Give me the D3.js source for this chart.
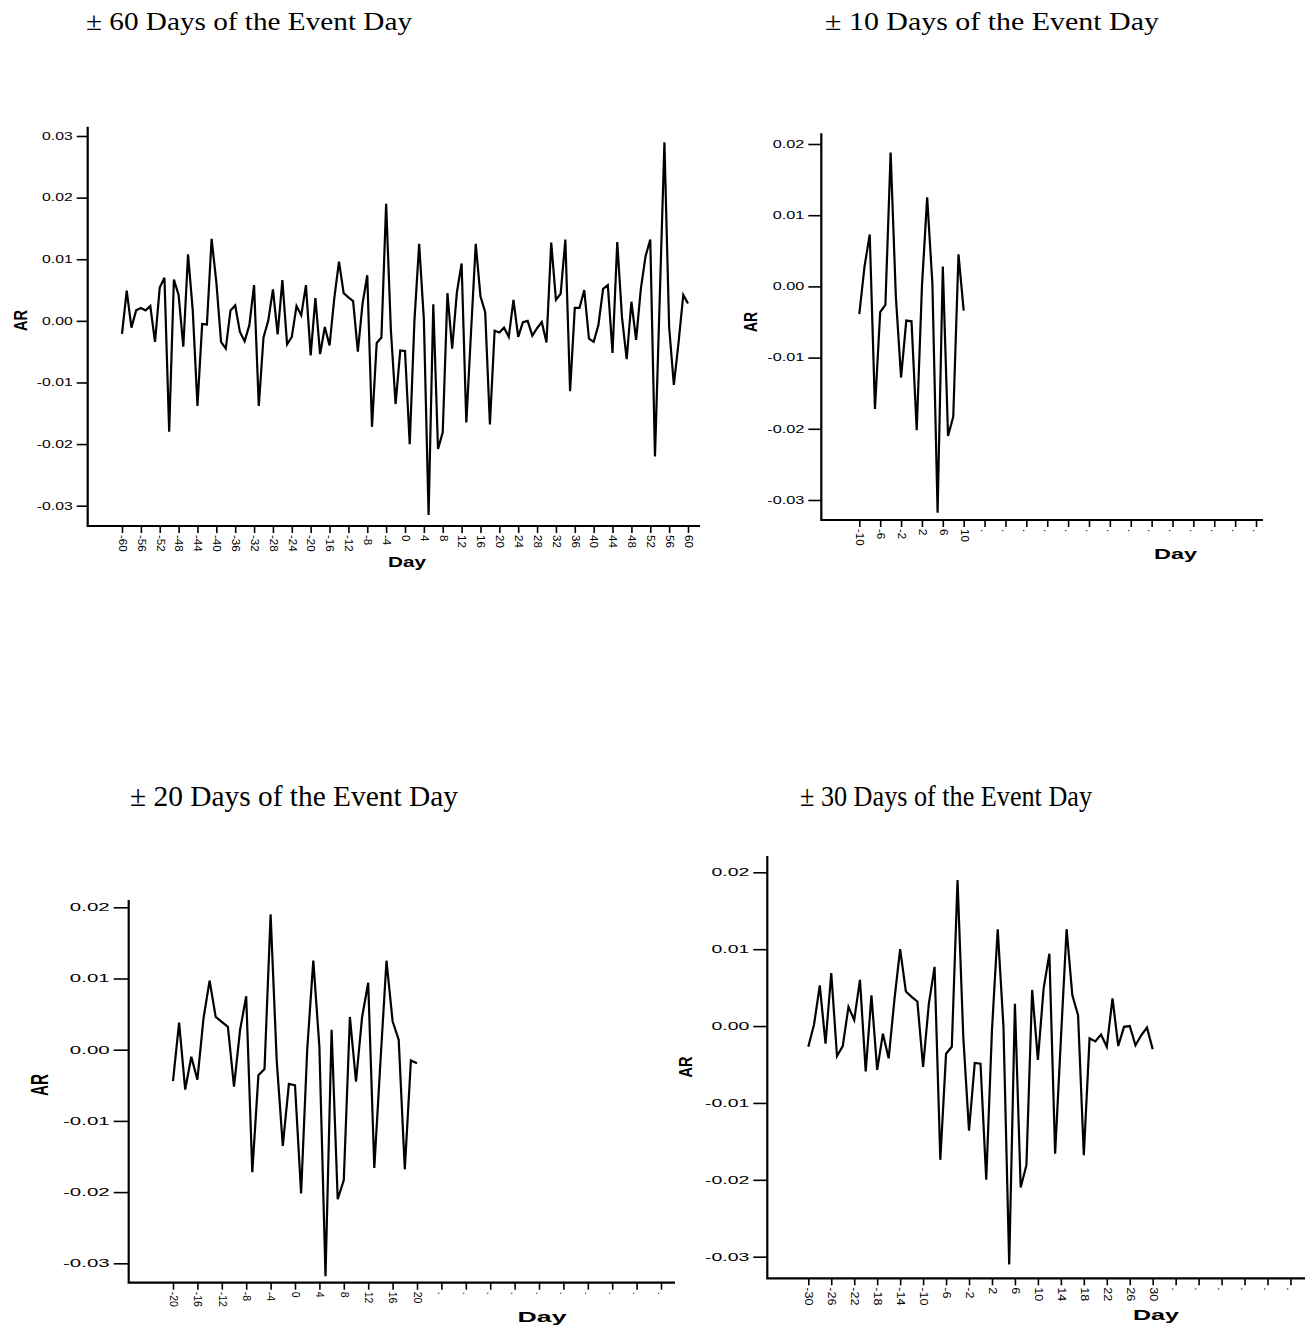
<!DOCTYPE html>
<html>
<head>
<meta charset="utf-8">
<script src="https://cdn.jsdelivr.net/npm/d3@7"></script>
<style>
  body { margin: 0; background: #fff; }
  svg { display: block; }
</style>
</head>
<body>
<div id="chart"></div>
<script>
/**
 * DATA
 * abnormal return (AR) by event day
 * */
const width = 1305, height = 1327;

// -60 .. 60
const ar60 = [
  -0.0021, 0.0049, -0.0011, 0.0017, 0.0021, 0.0017, 0.0024, -0.0034, 0.0054, 0.0070,
  -0.0180, 0.0067, 0.0042, -0.0042, 0.0108, 0.0017, -0.0138, -0.0005, -0.0006, 0.0133,
  0.0063, -0.0034, -0.0045, 0.0017, 0.0025, -0.0018, -0.0033, -0.0007, 0.0058, -0.0138,
  -0.0027, 0.0000, 0.0051, -0.0022, 0.0066, -0.0038, -0.0026, 0.0024, 0.0009, 0.0058,
  -0.0056, 0.0037, -0.0054, -0.0010, -0.0040, 0.0036, 0.0096, 0.0045, 0.0038, 0.0032,
  -0.0050, 0.0028, 0.0074, -0.0172, -0.0036, -0.0027, 0.0190, -0.0014, -0.0135, -0.0048,
  -0.0049, -0.0200, 0.0000, 0.0125, 0.0002, -0.0315, 0.0027, -0.0208, -0.0181, 0.0045,
  -0.0045, 0.0046, 0.0093, -0.0165, -0.0018, 0.0125, 0.0040, 0.0014, -0.0168, -0.0016,
  -0.0019, -0.0011, -0.0026, 0.0034, -0.0026, -0.0002, 0.0000, -0.0024, -0.0012, -0.0002,
  -0.0035, 0.0127, 0.0034, 0.0044, 0.0132, -0.0114, 0.0021, 0.0021, 0.0050, -0.0029,
  -0.0034, -0.0007, 0.0052, 0.0058, -0.0052, 0.0128, 0.0006, -0.0062, 0.0031, -0.0031,
  0.0052, 0.0105, 0.0132, -0.0220, 0.0035, 0.0290, -0.0010, -0.0104, -0.0035, 0.0042,
  0.0028
];

// -30 .. 30
const ar30 = [
  -0.0027, 0.0002, 0.0053, -0.0023, 0.0069, -0.0039, -0.0026, 0.0025, 0.0008, 0.0060,
  -0.0059, 0.0040, -0.0057, -0.0010, -0.0042, 0.0034, 0.0100, 0.0045, 0.0038, 0.0032,
  -0.0053, 0.0029, 0.0077, -0.0174, -0.0036, -0.0027, 0.0190, -0.0014, -0.0136, -0.0048,
  -0.0049, -0.0200, -0.0005, 0.0126, -0.0001, -0.0310, 0.0029, -0.0210, -0.0181, 0.0047,
  -0.0044, 0.0049, 0.0094, -0.0166, -0.0018, 0.0126, 0.0040, 0.0014, -0.0168, -0.0016,
  -0.0020, -0.0011, -0.0027, 0.0036, -0.0026, -0.0001, 0.0000, -0.0025, -0.0012, -0.0002,
  -0.0030
];

// -20 .. 20
const ar20 = [
  -0.0044, 0.0038, -0.0056, -0.0010, -0.0042, 0.0044, 0.0097, 0.0046, 0.0039, 0.0032,
  -0.0052, 0.0028, 0.0075, -0.0172, -0.0036, -0.0027, 0.0190, -0.0015, -0.0135, -0.0048,
  -0.0050, -0.0202, 0.0000, 0.0125, 0.0004, -0.0318, 0.0028, -0.0210, -0.0183, 0.0046,
  -0.0045, 0.0046, 0.0094, -0.0166, -0.0018, 0.0125, 0.0040, 0.0014, -0.0168, -0.0015,
  -0.0019
];

// -10 .. 10
const ar10 = [
  -0.0039, 0.0028, 0.0073, -0.0172, -0.0036, -0.0026, 0.0188, -0.0014, -0.0128, -0.0048,
  -0.0049, -0.0202, 0.0000, 0.0125, 0.0004, -0.0318, 0.0028, -0.0210, -0.0183, 0.0045,
  -0.0034
];

const yTicksWide = [-0.03, -0.02, -0.01, 0.00, 0.01, 0.02, 0.03];
const yTicks = [-0.03, -0.02, -0.01, 0.00, 0.01, 0.02];

const xTicks60 = [-60, -56, -52, -48, -44, -40, -36, -32, -28, -24, -20, -16, -12, -8, -4, 0,
  4, 8, 12, 16, 20, 24, 28, 32, 36, 40, 44, 48, 52, 56, 60];
const xTicks10 = [-10, -6, -2, 2, 6, 10, 14, 18, 22, 26, 30, 34, 38, 42, 46, 50, 54, 58, 62, 66];
const xTicks20 = [-20, -16, -12, -8, -4, 0, 4, 8, 12, 16, 20, 24, 28, 32, 36, 40, 44, 48, 52, 56, 60];
const xTicks30 = [-30, -26, -22, -18, -14, -10, -6, -2, 2, 6, 10, 14, 18, 22, 26, 30, 34, 38, 42, 46, 50, 54];

const titles = ["± 60 Days of the Event Day", "± 10 Days of the Event Day",
  "± 20 Days of the Event Day", "± 30 Days of the Event Day"];

/**
 * LAYOUT (one entry per panel)
 * */
const panels = [
  { title: titles[0], values: ar60, win: 60, xTicks: xTicks60, yTicks: yTicksWide,
    tx: 86, ty: 30, tw: 326, ts: 26,
    axisX: 87.7, top: 126.7, base: 526, right: 700,
    xr: [122, 688], yd: [-0.03, 0.03], yr: [505.7, 136],
    tick: 11, ylk: 1.5, xlk: 1.1,
    ar: [20.5, 320.5, 19, 21], day: [407, 567, 14, 38] },
  { title: titles[1], values: ar10, win: 10, xTicks: xTicks10, yTicks: yTicks,
    tx: 825, ty: 30, tw: 334, ts: 26,
    axisX: 821.3, top: 133.3, base: 520, right: 1263,
    xr: [859.3, 963.7], yd: [-0.03, 0.02], yr: [500, 144],
    tick: 13, ylk: 1.55, xlk: 1.1,
    ar: [751, 322, 18, 20], day: [1175.5, 559, 15, 43] },
  { title: titles[2], values: ar20, win: 20, xTicks: xTicks20, yTicks: yTicks,
    tx: 130, ty: 806, tw: 328, ts: 30,
    axisX: 128.7, top: 900, base: 1282.7, right: 675,
    xr: [173, 417], yd: [-0.03, 0.02], yr: [1263.3, 907.3],
    tick: 15, ylk: 1.95, xlk: 1.0,
    ar: [40, 1085, 23, 22], day: [542, 1322, 15, 49] },
  { title: titles[3], values: ar30, win: 30, xTicks: xTicks30, yTicks: yTicks,
    tx: 800, ty: 806, tw: 292, ts: 29,
    axisX: 767.3, top: 856, base: 1278.3, right: 1305,
    xr: [808.3, 1152.7], yd: [-0.03, 0.02], yr: [1256.7, 872.3],
    tick: 14, ylk: 1.85, xlk: 1.2,
    ar: [686, 1067, 18, 21], day: [1156, 1320, 15, 46] }
];

const svg = d3.select("#chart")
  .append("svg")
  .attr("width", width)
  .attr("height", height)
  .style("font-family", "Arial, 'Liberation Sans', sans-serif");

// widen text the way the exported chart did
function stretch(sel, k) {
  sel.each(function () {
    const w = this.getComputedTextLength();
    d3.select(this).attr("textLength", w * k).attr("lengthAdjust", "spacingAndGlyphs");
  });
}

panels.forEach(p => {
  const g = svg.append("g");
  const x = d3.scaleLinear().domain([-p.win, p.win]).range(p.xr);
  const y = d3.scaleLinear().domain(p.yd).range(p.yr);

  // title
  g.append("text")
    .attr("x", p.tx).attr("y", p.ty)
    .attr("font-family", "'Times New Roman', 'Liberation Serif', serif")
    .attr("font-size", p.ts)
    .attr("textLength", p.tw).attr("lengthAdjust", "spacingAndGlyphs")
    .text(p.title);

  // y axis
  const yAxis = g.append("g")
    .attr("transform", `translate(${p.axisX},0)`)
    .call(d3.axisLeft(y).tickValues(p.yTicks).tickSize(p.tick).tickSizeOuter(0)
      .tickFormat(d => d.toFixed(2)));
  yAxis.select(".domain").remove();
  yAxis.selectAll(".tick line").attr("stroke", "#000").attr("stroke-width", 1.6);
  yAxis.selectAll(".tick text")
    .attr("x", -(p.tick + 4))
    .attr("font-size", 10.5).attr("fill", "#000")
    .call(stretch, p.ylk);

  // x axis
  const xAxis = g.append("g")
    .attr("transform", `translate(0,${p.base})`)
    .call(d3.axisBottom(x).tickValues(p.xTicks).tickSize(7).tickSizeOuter(0)
      .tickFormat(d => d > p.win ? "." : String(d)));
  xAxis.select(".domain").remove();
  xAxis.selectAll(".tick line").attr("stroke", "#000").attr("stroke-width", 1.6);
  xAxis.selectAll(".tick text")
    .attr("font-size", 10.5).attr("fill", "#000")
    .attr("text-anchor", "start")
    .attr("transform", "rotate(90)")
    .attr("x", 9).attr("y", 0).attr("dy", "0.35em")
    .call(stretch, p.xlk);

  // axis lines
  g.append("path")
    .attr("d", `M${p.axisX},${p.top}V${p.base}H${p.right}`)
    .attr("fill", "none").attr("stroke", "#000").attr("stroke-width", 2.2);

  // AR series
  const pts = p.values.map((v, i) => ({ day: i - p.win, v }));
  g.append("path")
    .datum(pts)
    .attr("d", d3.line().x(d => x(d.day)).y(d => y(d.v)))
    .attr("fill", "none").attr("stroke", "#000")
    .attr("stroke-width", 2.2).attr("stroke-linejoin", "miter");

  // axis titles
  g.append("text")
    .attr("transform", `translate(${p.ar[0]},${p.ar[1]}) rotate(-90)`)
    .attr("text-anchor", "middle").attr("dy", "0.36em")
    .attr("font-weight", "bold").attr("font-size", p.ar[2])
    .attr("textLength", p.ar[3]).attr("lengthAdjust", "spacingAndGlyphs")
    .text("AR");

  g.append("text")
    .attr("x", p.day[0] - p.day[3] / 2).attr("y", p.day[1])
    .attr("font-weight", "bold").attr("font-size", p.day[2])
    .attr("textLength", p.day[3]).attr("lengthAdjust", "spacingAndGlyphs")
    .text("Day");
});
</script>
</body>
</html>
